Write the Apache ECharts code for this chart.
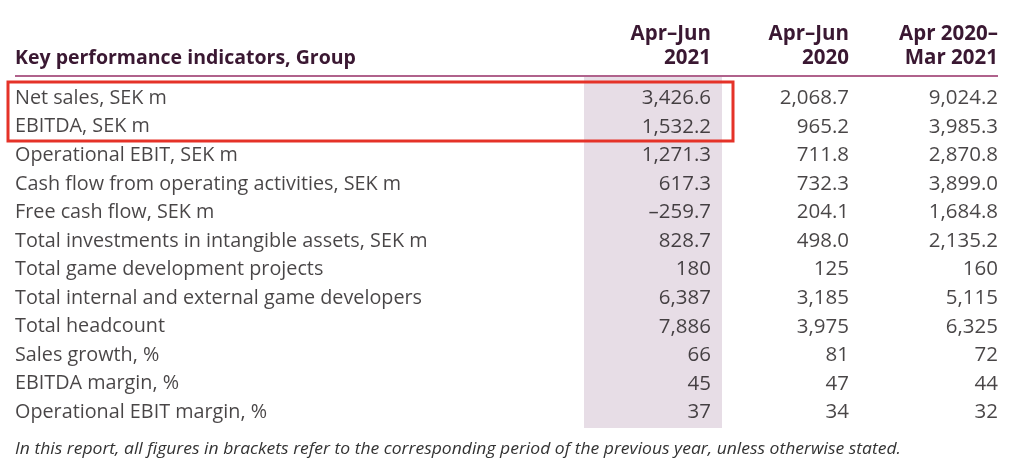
<!DOCTYPE html>
<html><head><meta charset="utf-8">
<script src="https://cdn.jsdelivr.net/npm/echarts@6/dist/echarts.min.js"></script>
<style>html,body{margin:0;padding:0;background:#fff}#c{width:1024px;height:468px}</style>
</head><body><div id="c"></div>
<script>
const title = 'Key performance indicators, Group';
const colHeaders = [['Apr\u2013Jun', '2021'], ['Apr\u2013Jun', '2020'], ['Apr 2020\u2013', 'Mar 2021']];
const rowLabels = [
  'Net sales, SEK m',
  'EBITDA, SEK m',
  'Operational EBIT, SEK m',
  'Cash flow from operating activities, SEK m',
  'Free cash flow, SEK m',
  'Total investments in intangible assets, SEK m',
  'Total game development projects',
  'Total internal and external game developers',
  'Total headcount',
  'Sales growth, %',
  'EBITDA margin, %',
  'Operational EBIT margin, %'
];
const decimals = [1, 1, 1, 1, 1, 1, 0, 0, 0, 0, 0, 0];
const aprJun2021 = [3426.6, 1532.2, 1271.3, 617.3, -259.7, 828.7, 180, 6387, 7886, 66, 45, 37];
const aprJun2020 = [2068.7, 965.2, 711.8, 732.3, 204.1, 498.0, 125, 3185, 3975, 81, 47, 34];
const fy2020_21 = [9024.2, 3985.3, 2870.8, 3899.0, 1684.8, 2135.2, 160, 5115, 6325, 72, 44, 32];
const footnote = 'In this report, all figures in brackets refer to the corresponding period of the previous year, unless otherwise stated.';

function fmt(v, d) {
  const s = Math.abs(v).toLocaleString('en-US', {minimumFractionDigits: d, maximumFractionDigits: d});
  return (v < 0 ? '\u2013' : '') + s;
}
const FONT = '"Open Sans", "Noto Sans", sans-serif';
const TXT = '#1a1618';
const HEAD = '#3a1832';
const colRight = [711, 849, 998];
const cols = [aprJun2021, aprJun2020, fy2020_21];

const chart = echarts.init(document.getElementById('c'));
const series = [];
series.push({
  type: 'scatter', symbolSize: 0, silent: true,
  data: rowLabels.map((l, i) => ({value: [15, i], name: l})),
  label: {show: true, position: 'right', distance: 0, formatter: p => p.name,
    color: TXT, fontFamily: FONT, fontSize: 19.8}
});
cols.forEach((arr, ci) => {
  const s = {
    type: 'scatter', symbolSize: 0, silent: true,
    data: arr.map((v, i) => ({value: [colRight[ci], i], name: fmt(v, decimals[i])})),
    label: {show: true, position: 'left', distance: 0, formatter: p => p.name,
      color: TXT, fontFamily: FONT, fontSize: 20.5}
  };
  if (ci === 0) {
    s.markArea = {silent: true, data: [
      [{x: 584, y: 77, itemStyle: {color: '#e7dde6'}}, {x: 722, y: 428}],
      [{x: 8, y: 82, itemStyle: {color: 'rgba(0,0,0,0)', borderColor: '#e53228', borderWidth: 3, borderRadius: 3}}, {x: 733, y: 141}]
    ]};
  }
  series.push(s);
});

// stretch the footnote to the reference's width
const footFont = 'italic 15.5px ' + FONT;
const ctx = document.createElement('canvas').getContext('2d');
ctx.font = footFont;
const footScale = 886 / ctx.measureText(footnote).width;

const graphics = [
  {type: 'text', left: 15, top: 48, style: {text: title, fill: HEAD, font: 'bold 19.5px ' + FONT}},
  {type: 'line', shape: {x1: 15, y1: 76, x2: 998, y2: 76}, style: {stroke: '#b0628c', lineWidth: 2}},
  {type: 'text', x: 15, y: 442, scaleX: footScale, style: {text: footnote, fill: '#333', font: footFont}}
];
colHeaders.forEach((h, i) => {
  graphics.push({type: 'text', x: colRight[i], y: 22, style: {text: h.join('\n'), fill: HEAD, align: 'right',
    font: 'bold 20.5px ' + FONT, lineHeight: 24}});
});

chart.setOption({
  animation: false,
  grid: {left: 0, right: 0, top: 84, height: 342.6},
  xAxis: {type: 'value', min: 0, max: 1024, show: false},
  yAxis: {type: 'category', data: rowLabels, inverse: true, show: false},
  series: series,
  graphic: graphics
});
</script></body></html>
